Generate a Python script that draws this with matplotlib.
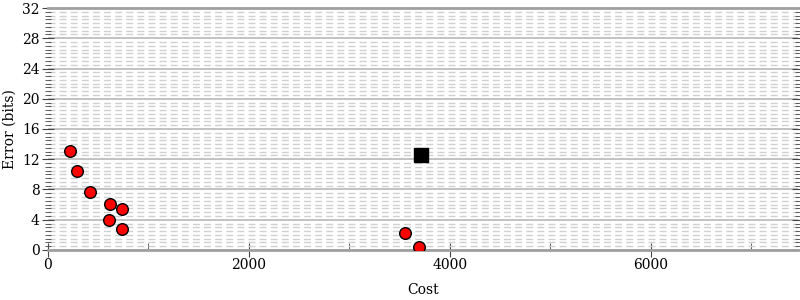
import matplotlib
matplotlib.use("Agg")
import matplotlib.pyplot as plt
from matplotlib.ticker import MultipleLocator

# pareto points (red circles)
cost = [219, 289, 419, 618, 738, 608, 738, 3558, 3688]
err = [13.1, 10.45, 7.67, 6.08, 5.42, 3.97, 2.78, 2.25, 0.4]
# reference point (black square)
ref_cost = [3708]
ref_err = [12.56]

plt.rcParams['font.family'] = ['DejaVu Serif']

fig = plt.figure(figsize=(8, 3), dpi=100)
ax = fig.add_axes([0.06, 0.1667, 0.9375, 0.8066])

ax.set_xlim(0, 7465)
ax.set_ylim(0, 32)
ax.xaxis.set_major_locator(MultipleLocator(2000))
ax.xaxis.set_minor_locator(MultipleLocator(1000))
ax.yaxis.set_major_locator(MultipleLocator(4))
ax.yaxis.set_minor_locator(MultipleLocator(0.5))

ax.grid(axis='y', which='major', color='#b8b8b8', lw=1.2)
ax.grid(axis='y', which='minor', color='#d0d0d0', lw=1, ls=(0, (5, 3)))
ax.set_axisbelow(True)

for s in ['left', 'right']:
    ax.spines[s].set_visible(False)
ax.spines['bottom'].set_color('#a0a0a0')
ax.spines['bottom'].set_linewidth(2)
ax.spines['top'].set_color('#a0a0a0')
ax.spines['top'].set_linewidth(2)

ax.tick_params(axis='y', which='both', direction='inout', left=True, right=True, color='#444444')
ax.tick_params(axis='y', which='major', length=8, pad=2)
ax.tick_params(axis='y', which='minor', length=5)
ax.tick_params(axis='x', which='major', direction='inout', length=10, color='#444444', pad=1)
ax.tick_params(axis='x', which='minor', direction='in', length=5, color='#444444')
ax.tick_params(labelsize=10)

ax.scatter(cost, err, s=70, c='red', edgecolors='black', linewidths=1, zorder=3)
ax.scatter(ref_cost, ref_err, s=90, c='black', marker='s', zorder=3)

ax.set_xlabel('Cost', fontsize=10, labelpad=8)
ax.set_ylabel('Error (bits)', fontsize=10, labelpad=4)

fig.savefig('out.png', dpi=100)
